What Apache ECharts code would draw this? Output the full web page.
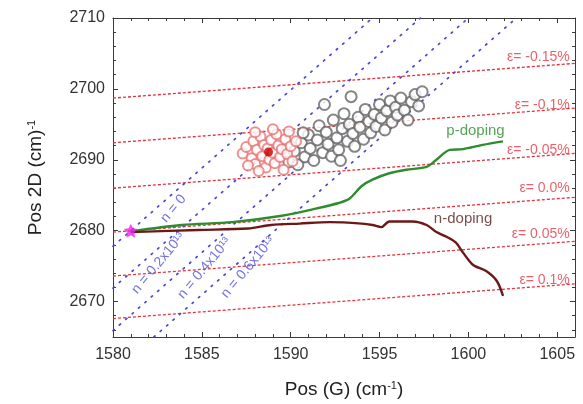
<!DOCTYPE html>
<html>
<head>
<meta charset="utf-8">
<script src="https://cdn.jsdelivr.net/npm/echarts@6/dist/echarts.min.js"></script>
<style>
html, body { margin: 0; padding: 0; background: #fff; }
#main { width: 583px; height: 404px; }
</style>
</head>
<body>
<div id="main"></div>
<script>
// iso-strain lines (red dashed), y at x = 1580 and x = 1606
const strainNames = ['ε= -0.15%', 'ε= -0.1%', 'ε= -0.05%', 'ε= 0.0%', 'ε= 0.05%', 'ε= 0.1%'];
const strainX = [1580, 1606];
const strainY = [
    [2698.7, 2703.6],
    [2692.4, 2697.3],
    [2686.0, 2690.9],
    [2679.8, 2684.7],
    [2673.6, 2678.5],
    [2667.6, 2672.5]
];
// iso-doping lines (blue dotted), two end points each
const dopingNames = ['n = 0', 'n = 0.2x10¹³', 'n = 0.4x10¹³', 'n = 0.6x10¹³'];
const dopingLines = [
    [[1580, 2677.8], [1594.6, 2710]],
    [[1580, 2671.9], [1597.3, 2710]],
    [[1580, 2665.9], [1600.0, 2710]],
    [[1582.3, 2665], [1602.7, 2710]]
];
// measured spots
const redSpots = [
    [1587.3, 2690.9], [1587.5, 2691.8], [1587.8, 2690.2], [1587.9, 2692.6], [1588.0, 2689.4],
    [1588.1, 2691.4], [1588.3, 2693.3], [1588.4, 2690.5], [1588.5, 2692.1], [1588.6, 2688.9],
    [1588.7, 2691.6], [1588.8, 2690.0], [1588.9, 2692.8], [1589.0, 2691.0], [1589.1, 2689.5],
    [1589.2, 2693.6], [1589.3, 2692.0], [1589.4, 2690.4], [1589.5, 2691.5], [1589.6, 2688.6],
    [1589.7, 2692.9], [1589.8, 2690.8], [1589.9, 2694.0], [1590.0, 2691.9], [1590.1, 2689.8],
    [1587.6, 2689.2], [1588.2, 2688.4], [1590.3, 2692.6], [1589.0, 2694.3], [1588.0, 2693.9]
];
const redMean = [[1588.75, 2691.1]];
const graySpots = [
    [1589.9, 2689.7], [1590.2, 2691.2], [1590.4, 2689.3], [1590.6, 2692.4], [1590.8, 2690.4],
    [1591.0, 2693.5], [1591.1, 2691.6], [1591.3, 2689.9], [1591.5, 2692.8], [1591.6, 2694.8],
    [1591.8, 2691.0], [1592.0, 2693.9], [1592.1, 2692.2], [1592.3, 2690.5], [1592.4, 2695.6],
    [1592.6, 2693.1], [1592.7, 2691.4], [1592.9, 2694.4], [1593.0, 2696.5], [1593.2, 2692.6],
    [1593.3, 2695.0], [1593.5, 2693.7], [1593.6, 2691.9], [1593.8, 2696.0], [1593.9, 2694.6],
    [1594.1, 2692.9], [1594.2, 2697.1], [1594.4, 2695.4], [1594.5, 2693.8], [1594.7, 2696.4],
    [1594.8, 2694.7], [1595.0, 2697.8], [1595.1, 2695.9], [1595.3, 2694.2], [1595.4, 2696.9],
    [1595.6, 2698.3], [1595.7, 2695.3], [1595.9, 2697.4], [1596.0, 2696.3], [1596.2, 2698.7],
    [1596.4, 2697.0], [1596.6, 2695.6], [1596.8, 2698.2], [1597.0, 2699.2], [1597.2, 2697.6],
    [1597.4, 2699.6], [1591.9, 2697.8], [1590.7, 2693.8], [1593.4, 2698.9], [1592.8, 2689.9]
];
const pristine = [[1581, 2680]];
// doping trajectories
const pDoping = [
    [1581.0, 2679.9], [1583.85, 2680.8], [1586.7, 2681.2], [1589.5, 2682.1], [1591.4, 2683.1],
    [1592.7, 2683.9], [1593.3, 2684.5], [1594.0, 2686.3], [1594.6, 2687.2], [1595.55, 2688.1],
    [1596.5, 2688.6], [1597.65, 2689.0], [1598.2, 2690.0], [1598.95, 2691.4], [1599.7, 2691.5],
    [1600.8, 2692.1], [1601.95, 2692.6]
];
const nDoping = [
    [1581.0, 2679.8], [1584.8, 2680.1], [1587.6, 2680.3], [1588.9, 2680.8], [1590.5, 2681.0],
    [1592.2, 2681.2], [1594.0, 2681.0], [1594.6, 2680.8], [1595.1, 2680.5], [1595.55, 2681.3],
    [1596.85, 2681.3], [1597.65, 2680.8], [1598.2, 2679.8], [1598.8, 2679.1], [1599.3, 2678.3],
    [1599.7, 2676.9], [1600.25, 2675.2], [1601.0, 2674.3], [1601.6, 2672.9], [1601.95, 2670.8]
];

// where the annotations sit (data coordinates)
const strainLabelAt = [[1605.7, 2704.5], [1605.7, 2697.7], [1605.7, 2691.4], [1605.7, 2686.0], [1605.7, 2679.5], [1605.7, 2673.0]];
const dopingLabelAt = [[1583.4, 2683.1], [1582.55, 2675.4], [1585.15, 2674.7], [1587.6, 2674.8]];

const FONT = 'Liberation Sans, Arial, sans-serif';
const chart = echarts.init(document.getElementById('main'));

const series = [];
strainY.forEach(function (ys, i) {
    series.push({
        name: strainNames[i], type: 'line', silent: true, symbol: 'none', z: 1,
        data: strainX.map(function (x, j) { return [x, ys[j]]; }),
        lineStyle: { color: '#e2323c', width: 1.3, type: [3, 2] }
    });
});
dopingLines.forEach(function (pts, i) {
    series.push({
        name: dopingNames[i], type: 'line', silent: true, symbol: 'none', z: 1,
        data: pts,
        lineStyle: { color: '#4646d8', width: 1.7, type: [1.5, 7], cap: 'round' }
    });
});
series.push({
    type: 'scatter', data: graySpots, symbol: 'emptyCircle', symbolSize: 11, z: 2,
    itemStyle: { color: '#666', borderWidth: 0.9 }
});
series.push({
    type: 'scatter', data: redSpots, symbol: 'emptyCircle', symbolSize: 10, z: 3,
    itemStyle: { color: '#e87474', borderWidth: 0.9 }
});
series.push({
    type: 'scatter', data: redMean, symbol: 'circle', symbolSize: 9, z: 4,
    itemStyle: { color: '#c80000' }
});
series.push({
    type: 'line', data: pDoping, symbol: 'none', smooth: 0.3, z: 5,
    lineStyle: { color: '#2d8c2d', width: 2.4 }
});
series.push({
    type: 'line', data: nDoping, symbol: 'none', smooth: 0.3, z: 5,
    lineStyle: { color: '#6e1717', width: 2.4 }
});
series.push({
    type: 'scatter', data: pristine, symbol: 'path://M0,-10L2.9,-4L9.5,-3.1L4.8,1.5L5.9,8.1L0,5L-5.9,8.1L-4.8,1.5L-9.5,-3.1L-2.9,-4Z',
    symbolSize: 14, z: 6, itemStyle: { color: '#f020f0' }
});
// annotations
series.push({
    type: 'scatter', symbolSize: 0, silent: true, z: 7,
    data: strainNames.map(function (t, i) {
        return { value: strainLabelAt[i], label: { formatter: t } };
    }),
    label: {
        show: true, position: 'inside', align: 'right', verticalAlign: 'middle',
        color: '#e23a44', fontSize: 14, fontFamily: FONT
    }
});
series.push({
    type: 'scatter', symbolSize: 0, silent: true, z: 7,
    data: dopingNames.map(function (t, i) {
        return { value: dopingLabelAt[i], label: { formatter: t } };
    }),
    label: {
        show: true, position: 'inside', rotate: 50, color: '#5050d8', fontSize: 14, fontFamily: FONT
    }
});
series.push({
    type: 'scatter', symbolSize: 0, silent: true, z: 7,
    data: [
        { value: [1600.4, 2694.1], label: { formatter: 'p-doping', color: '#2d8c2d' } },
        { value: [1599.7, 2681.7], label: { formatter: 'n-doping', color: '#5a2020' } }
    ],
    label: { show: true, position: 'inside', fontSize: 15, fontFamily: FONT }
});

const axisColor = '#3a3a3a';
function plain(v) { return String(v); }
function baseX(pos, labels) {
    return {
        type: 'value', position: pos, min: 1580, max: 1606, interval: 5,
        axisLine: { show: true, onZero: false, lineStyle: { color: axisColor, width: 1 } },
        axisTick: { show: true, inside: true, length: 5, lineStyle: { color: axisColor } },
        minorTick: { show: true, splitNumber: 5, length: 3, lineStyle: { color: axisColor } },
        splitLine: { show: false },
        axisLabel: { show: labels, showMaxLabel: false, formatter: plain, color: '#333', fontSize: 16, fontFamily: FONT, margin: 10 }
    };
}
function baseY(pos, labels) {
    return {
        type: 'value', position: pos, min: 2665, max: 2710, splitNumber: 5,
        axisLine: { show: true, onZero: false, lineStyle: { color: axisColor, width: 1 } },
        axisTick: { show: true, inside: true, length: 5, lineStyle: { color: axisColor } },
        minorTick: { show: true, splitNumber: 5, length: 3, lineStyle: { color: axisColor } },
        splitLine: { show: false },
        axisLabel: { show: labels, showMinLabel: false, formatter: plain, color: '#333', fontSize: 16, fontFamily: FONT, margin: 8 }
    };
}
const xMain = baseX('bottom', true);
xMain.name = '{a|Pos (G) (cm}{s|-1}{a|)}';
xMain.nameLocation = 'middle';
xMain.nameGap = 43;
xMain.nameTextStyle = {
    rich: {
        a: { fontSize: 19, color: '#222', fontFamily: FONT },
        s: { fontSize: 11, color: '#222', fontFamily: FONT, verticalAlign: 'top', lineHeight: 10 }
    }
};
const yMain = baseY('left', true);
yMain.name = '{a|Pos 2D (cm)}{s|-1}';
yMain.nameLocation = 'middle';
yMain.nameGap = 68;
yMain.nameTextStyle = {
    rich: {
        a: { fontSize: 19, color: '#222', fontFamily: FONT },
        s: { fontSize: 11, color: '#222', fontFamily: FONT, verticalAlign: 'top', lineHeight: 10 }
    }
};

const option = {
    backgroundColor: '#fff',
    animation: false,
    grid: { left: 113, right: 8, top: 18, bottom: 62 },
    xAxis: [xMain, baseX('top', false)],
    yAxis: [yMain, baseY('right', false)],
    series: series
};
chart.setOption(option);
</script>
</body>
</html>
